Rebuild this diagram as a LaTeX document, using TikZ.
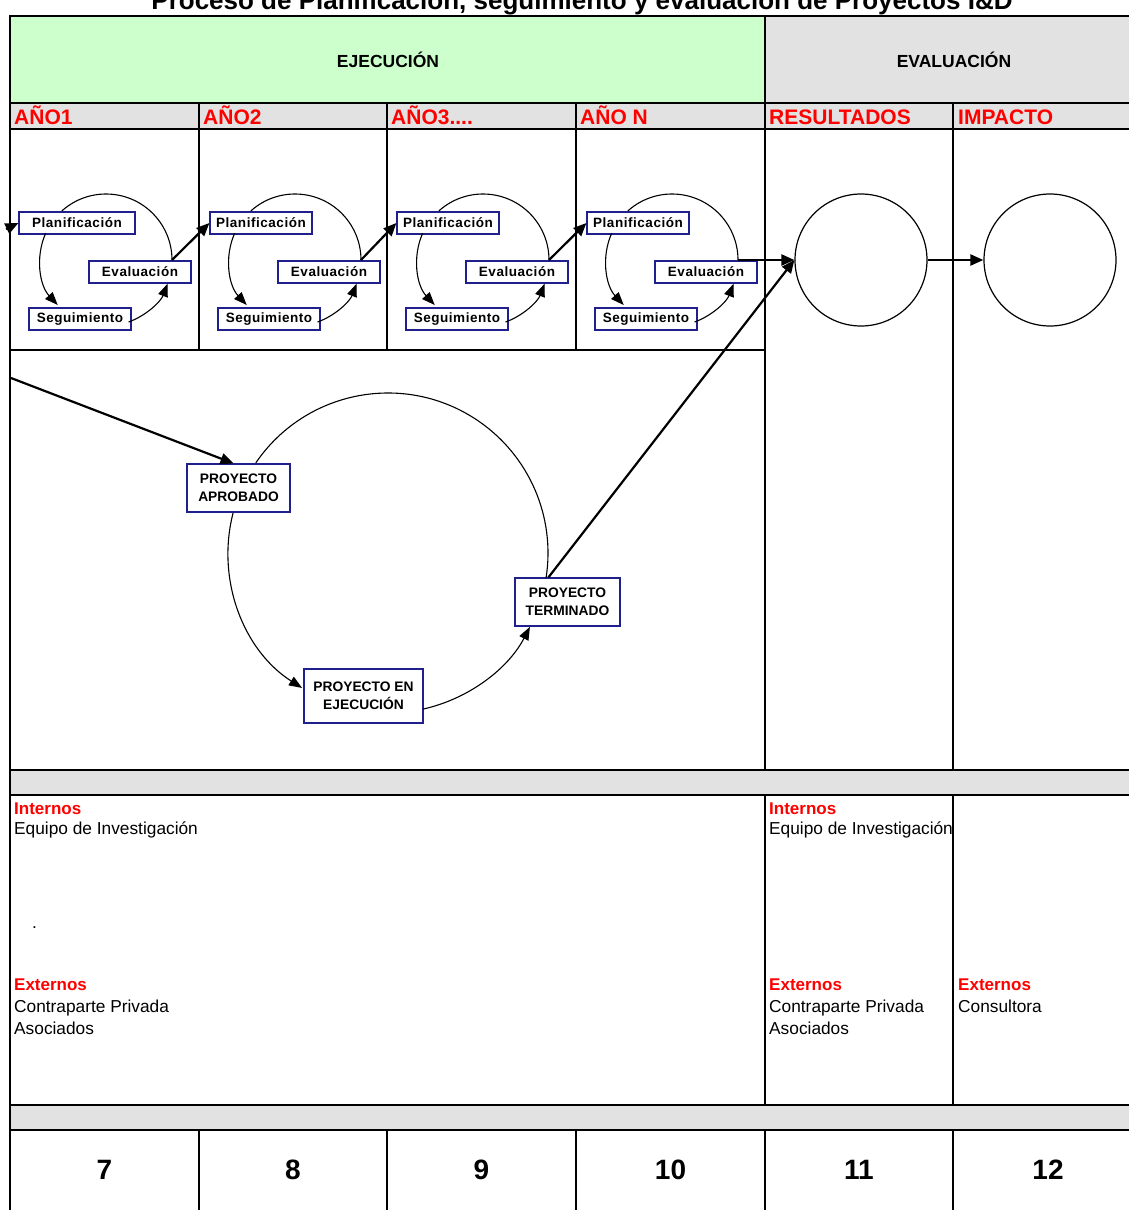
\documentclass[tikz,border=0pt]{standalone}
\usepackage{fontspec}
\setmainfont{Liberation Sans}
\newfontfamily\boxfont{Liberation Sans}[LetterSpace=4.0]
\usetikzlibrary{arrows.meta,calc}
\definecolor{hdrgreen}{RGB}{204,255,204}
\definecolor{bandgray}{RGB}{226,226,226}
\definecolor{boxblue}{RGB}{32,32,140}
\definecolor{labelred}{RGB}{255,0,0}

\begin{document}
\begin{tikzpicture}[x=1pt,y=-1pt,
  frame/.style={line width=2.5pt},
  rule/.style={line width=1.5pt},
  stepbox/.style={draw=boxblue, line width=1.2pt, fill=white, inner sep=0pt,
    minimum height=22pt, minimum width=102pt,
    font=\fontsize{13.5}{15}\boxfont\bfseries},
  stagebox/.style={draw=boxblue, line width=1.2pt, fill=white, inner sep=0pt,
    align=center, font=\fontsize{13.8}{18}\selectfont\bfseries},
  ring/.style={draw, circle, line width=1.2pt, inner sep=0pt, minimum size=132pt},
  looparc/.style={line width=1.1pt},
  looparrow/.style={line width=1.1pt, -{Triangle[length=13pt,width=10pt]}},
  link/.style={line width=2.2pt, -{Triangle[length=13pt,width=11pt]}},
  hdr/.style={font=\fontsize{17.5}{19}\selectfont\bfseries},
  yearlbl/.style={anchor=base west, text=labelred, inner sep=0pt,
    font=\fontsize{21}{23}\selectfont\bfseries},
  redlbl/.style={anchor=base west, text=labelred, inner sep=0pt,
    font=\fontsize{17}{20}\selectfont\bfseries},
  plainlbl/.style={anchor=base west, inner sep=0pt,
    font=\fontsize{17.3}{20}\selectfont},
  numlbl/.style={font=\fontsize{28}{30}\selectfont\bfseries}
]
\useasboundingbox (0,0) rectangle (1129,1210);

% title (its upper half runs past the top edge)
\node[anchor=base, inner sep=0pt, font=\fontsize{26}{30}\selectfont\bfseries] (title) at (582,9)
  {Proceso de Planificación, seguimiento y evaluación de Proyectos I\&D};

% fills
\fill[hdrgreen] (10,16) rectangle (765,103);
\fill[bandgray] (765,16) rectangle (1135,103);
\fill[bandgray] (10,103) rectangle (1135,129);
\fill[bandgray] (10,770) rectangle (1135,795);
\fill[bandgray] (10,1105) rectangle (1135,1130);

% horizontal rules
\foreach \y in {16,103,129,770,795,1105,1130}
  \draw[frame] (10,\y) -- (1135,\y);
\draw[rule] (10,350) -- (765,350);

% vertical rules
\draw[frame] (10,14.75) -- (10,1212);
\draw[rule] (765,16) -- (765,770) (765,795) -- (765,1105) (765,1130) -- (765,1212);
\draw[line width=1.2pt] (953,103) -- (953,770) (953,795) -- (953,1105) (953,1130) -- (953,1212);
\foreach \x in {199,387,576}
  \draw[rule] (\x,103) -- (\x,350) (\x,1130) -- (\x,1212);

% headers
\node[hdr] (ejec-h) at (388,60) {EJECUCIÓN};
\node[hdr] (eval-h) at (954,60) {EVALUACIÓN};
\node[yearlbl] (y1) at (14,124) {AÑO1};
\node[yearlbl] (y2) at (203,124) {AÑO2};
\node[yearlbl] (y3) at (391,124) {AÑO3....};
\node[yearlbl] (y4) at (580,124) {AÑO N};
\node[yearlbl] (yr) at (769,124) {RESULTADOS};
\node[yearlbl] (yi) at (958,124) {IMPACTO};

% yearly planning loops
\foreach \i/\L/\pw/\px in {1/10/116/67, 2/199/102/62, 3/387/102/61, 4/576/102/62}{
  \coordinate (c\i) at (\L+96,260);
  \coordinate (out\i) at (\L+162,260);
  \node[stepbox, minimum width=\pw pt] (plan\i) at (\L+\px,223) {Planificación};
  \node[stepbox] (eval\i) at (\L+130,272) {Evaluación};
  \node[stepbox] (seg\i) at (\L+70,319) {Seguimiento};
  \draw[looparc] (c\i) ++(228:66) arc[start angle=228, end angle=360, radius=66];
  \draw[looparrow] (c\i) ++(204:66) arc[start angle=204, end angle=137, radius=66];
  \draw[looparrow] (c\i) ++(70:66) arc[start angle=70, end angle=21, radius=66];
}
\foreach \i/\j in {1/2,2/3,3/4}
  \draw[link] (out\i) -- (plan\j.west);

% evaluation circles
\node[ring] (res) at (861,260) {};
\node[ring] (imp) at (1050,260) {};
\draw[link] (out4) -- (res.west);
\draw[link] (res.east) -- (imp.west);

% entry into the first year
\coordinate (in1) at (6,229);
\draw[link] (in1) -- (plan1.west);

% project life cycle
\coordinate (cyc) at (388,553);
\node[stagebox, minimum width=103pt, minimum height=48pt] (aprob) at (238.5,488) {PROYECTO\\APROBADO};
\node[stagebox, minimum width=119pt, minimum height=54pt] (ejec) at (363.5,696) {PROYECTO EN\\EJECUCIÓN};
\node[stagebox, minimum width=105pt, minimum height=48pt] (term) at (567.5,602) {PROYECTO\\TERMINADO};
\draw[looparc] (cyc) ++(214.3:160) arc[start angle=214.3, end angle=369, radius=160];
\draw[looparrow] (cyc) ++(194.5:160) arc[start angle=194.5, end angle=122.5, radius=160];
\draw[looparrow] (cyc) ++(77.4:160) arc[start angle=77.4, end angle=27.5, radius=160];

\coordinate (in2) at (11,378);
\draw[link] (in2) -- ($(aprob.north)+(-5,0)$);
\draw[link] ($(term.north west)+(34,0)$) -- (res.west);

% actors
\node[redlbl] (int1) at (14,814) {Internos};
\node[plainlbl] (eq1) at (14,834) {Equipo de Investigación};
\node[plainlbl] (dot) at (32,928) {.};
\node[redlbl] (ext1) at (14,990) {Externos};
\node[plainlbl] (cp1) at (14,1012) {Contraparte Privada};
\node[plainlbl] (as1) at (14,1034) {Asociados};

\node[redlbl] (int2) at (769,814) {Internos};
\node[plainlbl] (eq2) at (769,834) {Equipo de Investigación};
\node[redlbl] (ext2) at (769,990) {Externos};
\node[plainlbl] (cp2) at (769,1012) {Contraparte Privada};
\node[plainlbl] (as2) at (769,1034) {Asociados};

\node[redlbl] (ext3) at (958,990) {Externos};
\node[plainlbl] (con3) at (958,1012) {Consultora};

% step numbers
\foreach \n/\x in {7/104.5, 8/293, 9/481.5, 10/670.5, 11/859, 12/1048}
  \node[numlbl] (n\n) at (\x,1170) {\n};

\end{tikzpicture}
\end{document}
